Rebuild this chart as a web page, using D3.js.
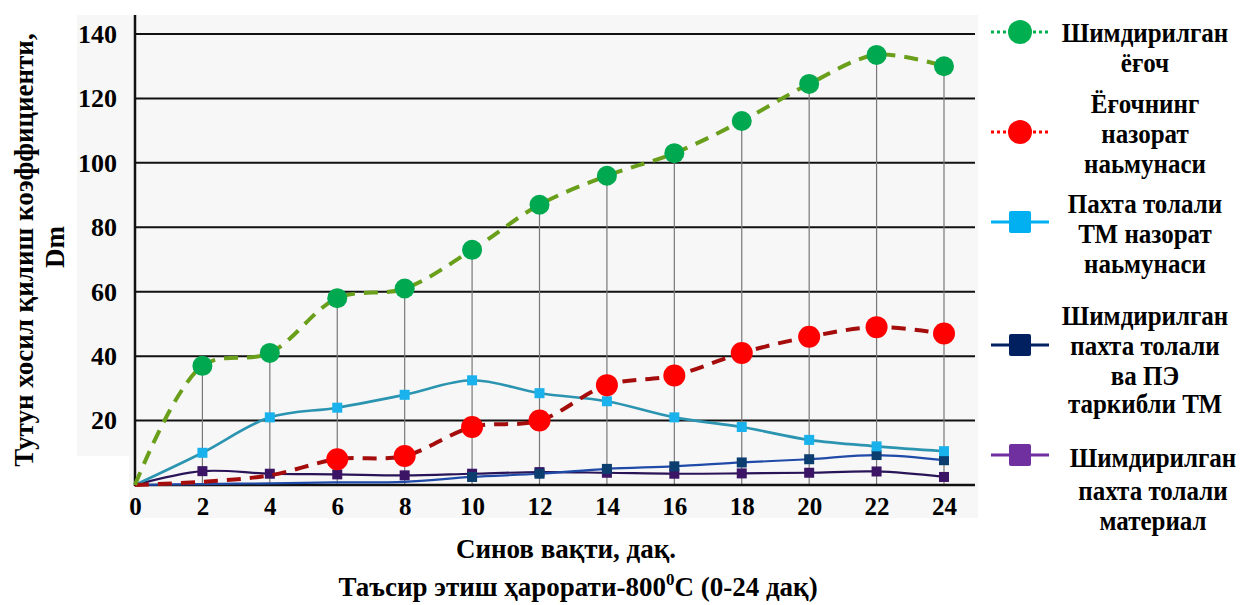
<!DOCTYPE html>
<html><head><meta charset="utf-8">
<script src="https://cdn.jsdelivr.net/npm/d3@7"></script>
<style>
body{margin:0;background:#fff}
</style>
</head><body><svg id="c" width="1241" height="605"></svg>
<script>
// ---- data ----
const times = [0,2,4,6,8,10,12,14,16,18,20,22,24];
const impregnatedWood = [0,37,41,58,61,73,87,96,103,113,124.5,133.5,130];
const woodControl = [0,1,3,8,9,18,20,31,34,41,46,49,47];
const cottonTMControl = [0,10,21,24,28,32.5,28.5,26,21,18,14,12,10.5];
const cottonPETM = [0,0.3,0.5,0.8,1,2.5,3.5,5,5.8,7,8,9.3,7.7];
const cottonMaterial = [0,4.3,3.5,3.3,3,3.5,4,3.8,3.5,3.6,3.8,4.2,2.5];
const yTicks = [20,40,60,80,100,120,140];
const xTicks = [0,2,4,6,8,10,12,14,16,18,20,22,24];
const seriesNames = [
  ["Шимдирилган","ёғоч"],
  ["Ёғочнинг","назорат","наьмунаси"],
  ["Пахта толали","ТМ назорат","наьмунаси"],
  ["Шимдирилган","пахта толали","ва ПЭ","таркибли ТМ"],
  ["Шимдирилган","пахта толали","материал"]
];
const xTitle = "Синов вақти, дақ.";
const yTitle = ["Тутун хосил қилиш коэффициенти,","Dm"];

const FONT = "'Liberation Serif','Times New Roman','DejaVu Serif',serif";
const T = sel => sel.style("font-family",FONT).style("font-weight","bold").style("fill","#000");

// ---- layout ----
const svg = d3.select("#c");
const x = d3.scaleLinear().domain([0,24]).range([135,944]);
const y = d3.scaleLinear().domain([0,140]).range([485,34]);

svg.append("rect").attr("x",77).attr("y",15).attr("width",901).attr("height",503).attr("fill","#f7f7f7");
svg.append("rect").attr("x",77).attr("y",456).attr("width",52).attr("height",62).attr("fill","#fff");

// gridlines
svg.append("g").selectAll("line").data(yTicks).join("line")
  .attr("x1",135).attr("x2",975).attr("y1",d=>y(d)).attr("y2",d=>y(d))
  .attr("stroke","#111").attr("stroke-width",2);

// drop lines
svg.append("g").selectAll("line").data(times.slice(1)).join("line")
  .attr("x1",d=>x(d)).attr("x2",d=>x(d))
  .attr("y1",(d,i)=>y(impregnatedWood[i+1])).attr("y2",y(0))
  .attr("stroke","#777").attr("stroke-width",1.2);

// axes
const yAxis = d3.axisLeft(y).tickValues(yTicks).tickSize(0).tickPadding(18);
const gy = svg.append("g").attr("transform","translate(135,0)").call(yAxis);
gy.select(".domain").remove();
T(gy.selectAll("text")).style("font-size","26px");
svg.append("line").attr("x1",135).attr("x2",135).attr("y1",15).attr("y2",486).attr("stroke","#111").attr("stroke-width",2.5);

const xAxis = d3.axisBottom(x).tickValues(xTicks).tickSize(0).tickPadding(12);
const gx = svg.append("g").attr("transform","translate(0,485)").call(xAxis);
gx.select(".domain").remove();
T(gx.selectAll("text")).style("font-size","25px");
svg.append("line").attr("x1",134).attr("x2",975).attr("y1",485).attr("y2",485).attr("stroke","#111").attr("stroke-width",2.5);

const pts = arr => times.map((t,i)=>[t,arr[i]]);
const line = d3.line().x(d=>x(d[0])).y(d=>y(d[1])).curve(d3.curveCatmullRom.alpha(0.5));

// purple
svg.append("path").attr("d",line(pts(cottonMaterial))).attr("fill","none").attr("stroke","#2a1458").attr("stroke-width",2.2);
svg.append("g").selectAll("rect").data(pts(cottonMaterial).slice(1)).join("rect")
  .attr("x",d=>x(d[0])-5).attr("y",d=>y(d[1])-5).attr("width",10).attr("height",10).attr("fill","#3c1466");
// navy
svg.append("path").attr("d",line(pts(cottonPETM))).attr("fill","none").attr("stroke","#1f4aa8").attr("stroke-width",2.2);
svg.append("g").selectAll("rect").data(pts(cottonPETM).slice(5)).join("rect")
  .attr("x",d=>x(d[0])-5).attr("y",d=>y(d[1])-5).attr("width",10).attr("height",10).attr("fill","#0b3d6e");
// light blue
svg.append("path").attr("d",line(pts(cottonTMControl))).attr("fill","none").attr("stroke","#2b94b0").attr("stroke-width",2.6);
svg.append("g").selectAll("rect").data(pts(cottonTMControl).slice(1)).join("rect")
  .attr("x",d=>x(d[0])-5).attr("y",d=>y(d[1])-5).attr("width",10).attr("height",10).attr("fill","#1ab2ec");
// red
svg.append("path").attr("d",line(pts(woodControl))).attr("fill","none").attr("stroke","#a50d0d").attr("stroke-width",4).attr("stroke-dasharray","14,9");
svg.append("g").selectAll("circle").data(pts(woodControl).slice(3)).join("circle")
  .attr("cx",d=>x(d[0])).attr("cy",d=>y(d[1])).attr("r",11).attr("fill","#ff0000");
// green
svg.append("path").attr("d",line(pts(impregnatedWood))).attr("fill","none").attr("stroke","#6a9f1c").attr("stroke-width",4).attr("stroke-dasharray","14,9");
svg.append("g").selectAll("circle").data(pts(impregnatedWood).slice(1)).join("circle")
  .attr("cx",d=>x(d[0])).attr("cy",d=>y(d[1])).attr("r",10).attr("fill","#00a84f");

// axis titles
T(svg.append("text").attr("x",566).attr("y",558).attr("text-anchor","middle")).style("font-size","27px").text(xTitle);
const t2 = T(svg.append("text").attr("x",578).attr("y",596).attr("text-anchor","middle")).style("font-size","27px");
t2.append("tspan").text("Таъсир этиш ҳарорати-800");
t2.append("tspan").attr("dy",-11).style("font-size","17px").text("0");
t2.append("tspan").attr("dy",11).text("С (0-24 дақ)");

T(svg.append("text").attr("transform","translate(33,250) rotate(-90)").attr("text-anchor","middle")).style("font-size","27px").text(yTitle[0]);
T(svg.append("text").attr("transform","translate(64,247) rotate(-90)").attr("text-anchor","middle")).style("font-size","27px").text(yTitle[1]);

// legend
const legendColors = ["#00b050","#ff0000","#00b0f0","#002060","#7030a0"];
const legendMarkerY = [32,132,222,345,455];
const legendTextY = [[32,62],[103,133,163],[203,233,263],[315,345,375,403],[457,490,520]];
const legendTextX = [1145,1145,1145,1145,1153];
const lg = svg.append("g");
seriesNames.forEach((names,i)=>{
  const my = legendMarkerY[i];
  lg.append("line").attr("x1",991).attr("x2",1049).attr("y1",my).attr("y2",my)
    .attr("stroke",legendColors[i]).attr("stroke-width",3)
    .attr("stroke-dasharray",i<2?"3,3":null);
  if(i<2) lg.append("circle").attr("cx",1020).attr("cy",my).attr("r",12).attr("fill",legendColors[i]);
  else lg.append("rect").attr("x",1009).attr("y",my-11).attr("width",22).attr("height",22).attr("rx",2).attr("fill",legendColors[i]);
  names.forEach((n,j)=>{
    T(lg.append("text").attr("transform",`translate(${legendTextX[i]},${legendTextY[i][j]}) scale(1,1.1)`).attr("dy","0.35em")
      .attr("text-anchor","middle")).style("font-size","25px").text(n);
  });
});
</script>
</body></html>
